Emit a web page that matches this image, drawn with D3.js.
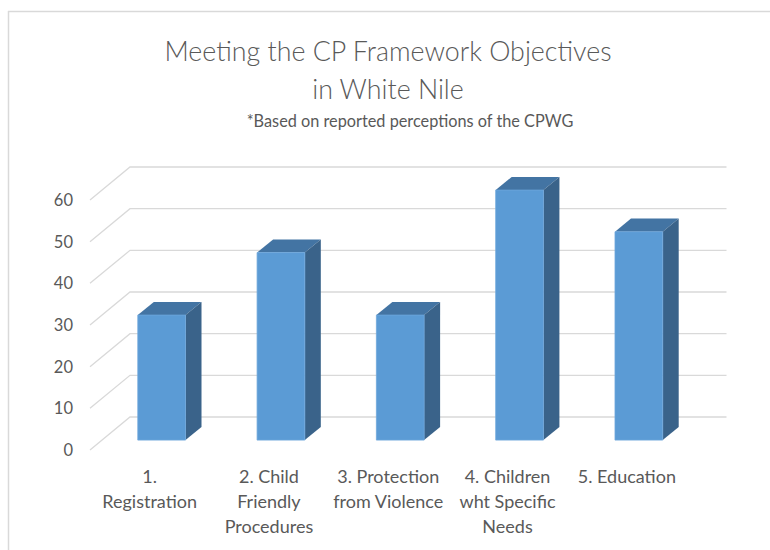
<!DOCTYPE html>
<html><head><meta charset="utf-8">
<script src="https://cdn.jsdelivr.net/npm/d3@7/dist/d3.min.js"></script>
<style>body{margin:0;background:#fff}svg{display:block}</style>
</head><body>
<svg id="chart" width="770" height="550"></svg>
<script>
const categories = [
  ["1.", "Registration"],
  ["2. Child", "Friendly", "Procedures"],
  ["3. Protection", "from Violence"],
  ["4. Children", "wht Specific", "Needs"],
  ["5. Education"]
];
const values = [30, 45, 30, 60, 50];
const yTicks = [0, 10, 20, 30, 40, 50, 60];
const titleLines = ["Meeting the CP Framework Objectives", "in White Nile"];
const subtitle = "*Based on reported perceptions of the CPWG";

const svg = d3.select("#chart");
const font = "Lato, 'Noto Sans', sans-serif";
const textColor = "#595959";
const gridColor = "#D9D9D9";

// frame
svg.append("line").attr("x1", 8.5).attr("x2", 8.5).attr("y1", 11).attr("y2", 550)
  .attr("stroke", gridColor).attr("stroke-width", 1.5);
svg.append("line").attr("x1", 8).attr("x2", 770).attr("y1", 11.5).attr("y2", 11.5)
  .attr("stroke", gridColor).attr("stroke-width", 1.5);

// 3D geometry: depth offset
const DX = 40, DY = -33;
const x = d3.scaleBand().domain(d3.range(values.length)).range([90, 686.5])
  .paddingInner(0.6).paddingOuter(0.3);
const y = d3.scaleLinear().domain([0, 60]).range([450, 200]);
const P = (px, py, z) => [px + z * DX, py + z * DY];

// gridlines: diagonal on side wall + horizontal on back wall
const g = svg.append("g");
yTicks.forEach(t => {
  const f = P(90, y(t), 0), b = P(90, y(t), 1), e = P(686.5, y(t), 1);
  g.append("path").attr("d", d3.line()([f, b, e]))
    .attr("fill", "none").attr("stroke", gridColor).attr("stroke-width", 1.3);
});

// y labels
svg.append("g").selectAll("text").data(yTicks).join("text")
  .attr("x", 73).attr("y", d => y(d)).attr("dy", "0.36em")
  .attr("text-anchor", "end").attr("font-family", font).attr("font-size", 16.5)
  .attr("fill", textColor).text(d => d);

// bars
const z0 = 0.3, z1 = 0.7;
const bars = svg.append("g").selectAll("g").data(values).join("g");
bars.each(function(v, i) {
  const sel = d3.select(this);
  const xl = x(i), xr = x(i) + x.bandwidth();
  const yb = y(0), yt = y(v);
  const line = d3.line();
  sel.append("path").attr("d", line([P(xl, yt, z0), P(xl, yt, z1), P(xr, yt, z1), P(xr, yt, z0)]) + "Z")
    .attr("fill", "#4374A3");
  sel.append("path").attr("d", line([P(xr, yt, z0), P(xr, yt, z1), P(xr, yb, z1), P(xr, yb, z0)]) + "Z")
    .attr("fill", "#3A638A");
  sel.append("path").attr("d", line([P(xl, yt, z0), P(xr, yt, z0), P(xr, yb, z0), P(xl, yb, z0)]) + "Z")
    .attr("fill", "#5B9BD5").attr("stroke", "#6FA7DC").attr("stroke-width", 0.8);
});

// category labels
const xl = d3.scalePoint().domain(d3.range(values.length)).range([90, 686.5]).padding(0.5);
svg.append("g").selectAll("text").data(categories).join("text")
  .attr("x", (d, i) => xl(i)).attr("y", 483)
  .attr("text-anchor", "middle").attr("font-family", font).attr("font-size", 18)
  .attr("fill", textColor)
  .each(function(d) {
    const t = d3.select(this);
    d.forEach((s, k) => t.append("tspan").attr("x", t.attr("x")).attr("y", 483 + k * 25).text(s));
  });

// titles
svg.append("g").selectAll("text").data(titleLines).join("text")
  .attr("x", 388).attr("y", (d, i) => 61 + i * 38)
  .attr("text-anchor", "middle").attr("font-family", font).attr("font-size", 26.8)
  .attr("font-weight", 300)
  .attr("fill", textColor).text(d => d);
svg.append("text").attr("x", 410).attr("y", 127).attr("text-anchor", "middle")
  .attr("font-family", font).attr("font-size", 16.3).attr("fill", textColor).text(subtitle);
</script>
</body></html>
